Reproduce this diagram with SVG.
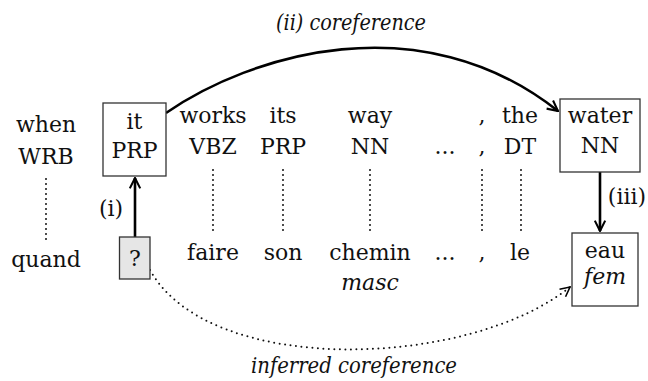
<svg xmlns="http://www.w3.org/2000/svg" width="648" height="381" viewBox="0 0 648 381">
<defs>
<style>
text{font-family:"DejaVu Serif","Liberation Serif",serif;font-size:22px;fill:#111;text-anchor:middle}
.it{font-style:italic}
.box{fill:#fff;stroke:#333;stroke-width:1.3}
.q{fill:#e6e6e6;stroke:#333;stroke-width:1.3}
.dot{stroke:#111;stroke-width:2;stroke-linecap:round;stroke-dasharray:0 5;fill:none}
.arr{stroke:#000;stroke-width:2.6;fill:none}
.darr{stroke:#111;stroke-width:2;stroke-linecap:round;stroke-dasharray:0 5.5;fill:none}
</style>
<marker id="ah" viewBox="0 0 10 10" refX="9" refY="5" markerWidth="5" markerHeight="5" orient="auto" markerUnits="strokeWidth">
<path d="M1,1 L9,5 L1,9" fill="none" stroke="#000" stroke-width="1.6"/>
</marker>
<marker id="ahs" viewBox="0 0 10 10" refX="9" refY="5" markerWidth="6" markerHeight="6" orient="auto" markerUnits="strokeWidth">
<path d="M1,1 L9,5 L1,9" fill="none" stroke="#000" stroke-width="1.3"/>
</marker>
</defs>
<g id="connectors">
<line class="dot" x1="46" y1="179" x2="46" y2="240"/>
<line class="dot" x1="213" y1="170" x2="213" y2="232"/>
<line class="dot" x1="283" y1="170" x2="283" y2="232"/>
<line class="dot" x1="370" y1="170" x2="370" y2="232"/>
<line class="dot" x1="482" y1="170" x2="482" y2="232"/>
<line class="dot" x1="521" y1="170" x2="521" y2="232"/>
<line class="arr" x1="135" y1="237" x2="135" y2="178" marker-end="url(#ah)"/>
<line class="arr" x1="600" y1="172" x2="600" y2="231" marker-end="url(#ah)"/>
<path class="arr" d="M166,113 C250,55 420,2 558,111" marker-end="url(#ah)"/>
<path class="darr" d="M150,270 C210,378 470,368 570,287" marker-end="url(#ahs)"/>
<text x="111" y="216">(i)</text>
<text x="627" y="204">(iii)</text>
<text class="it" x="351" y="30" textLength="150" lengthAdjust="spacingAndGlyphs">(ii) coreference</text>
<text class="it" x="354" y="373" textLength="206" lengthAdjust="spacingAndGlyphs">inferred coreference</text>
</g>
<g id="when"><text x="46" y="132">when</text><text x="46" y="164">WRB</text></g>
<g id="it"><rect class="box" x="103" y="103" width="63" height="73"/><text x="134.5" y="129">it</text><text x="134.5" y="158">PRP</text></g>
<g id="works"><text x="213" y="123">works</text><text x="213" y="154">VBZ</text></g>
<g id="its"><text x="283" y="123">its</text><text x="283" y="154">PRP</text></g>
<g id="way"><text x="370" y="123">way</text><text x="370" y="154">NN</text></g>
<g id="ellipsis1"><text x="445" y="154">...</text></g>
<g id="comma1"><text x="482" y="123">,</text><text x="482" y="154">,</text></g>
<g id="the"><text x="520" y="123">the</text><text x="520" y="154">DT</text></g>
<g id="water"><rect class="box" x="560" y="99" width="80" height="73"/><text x="600" y="123">water</text><text x="600" y="153">NN</text></g>
<g id="quand"><text x="46" y="267">quand</text></g>
<g id="unknown"><rect class="q" x="119.5" y="237" width="30.5" height="42"/><text x="134.8" y="266">?</text></g>
<g id="faire"><text x="213" y="260">faire</text></g>
<g id="son"><text x="283" y="260">son</text></g>
<g id="chemin"><text x="370" y="260">chemin</text><text class="it" x="370" y="290">masc</text></g>
<g id="ellipsis2"><text x="445" y="260">...</text></g>
<g id="comma2"><text x="482" y="260">,</text></g>
<g id="le"><text x="520" y="260">le</text></g>
<g id="eau"><rect class="box" x="572" y="233" width="66" height="73"/><text x="605" y="258">eau</text><text class="it" x="605" y="284">fem</text></g>
</svg>
